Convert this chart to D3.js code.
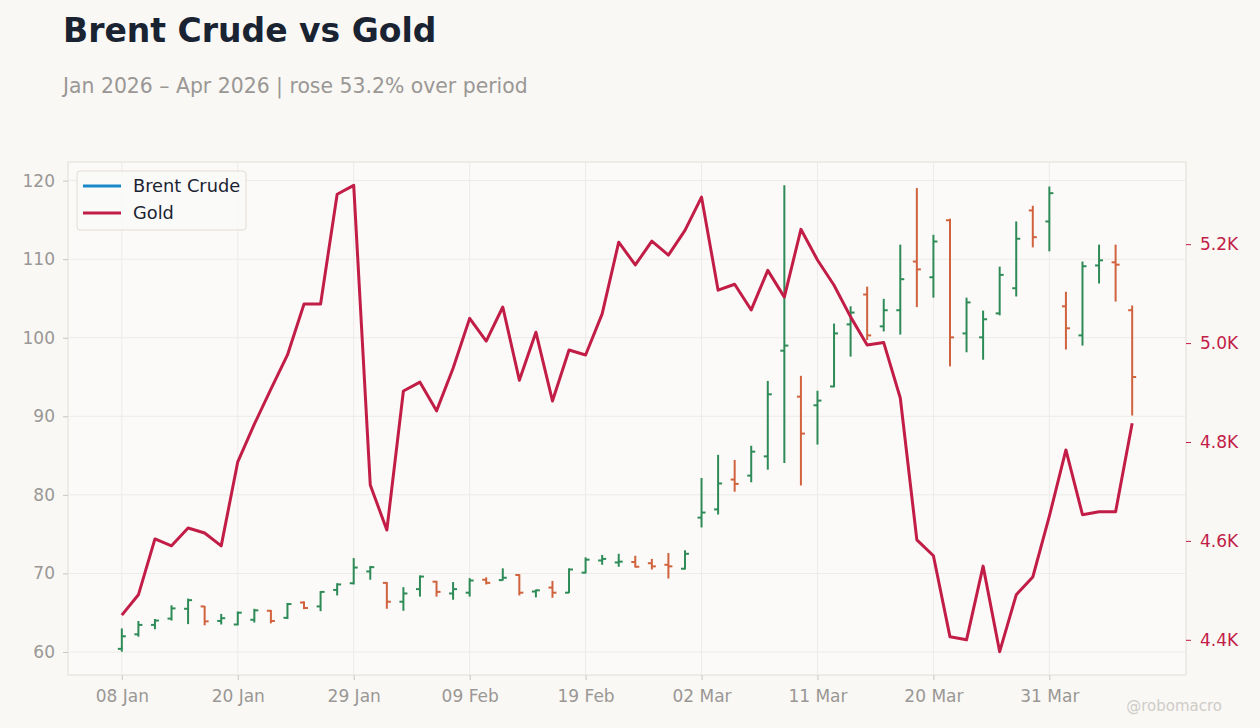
<!DOCTYPE html>
<html><head><meta charset="utf-8">
<script src="https://cdn.jsdelivr.net/npm/d3@7"></script>
<style>
body{margin:0;background:#f9f8f5;font-family:"DejaVu Sans",sans-serif;}
svg{display:block;}
</style></head>
<body><svg id="c" width="1260" height="728"></svg>
<script>
const dates = ["2026-01-08","2026-01-09","2026-01-12","2026-01-13","2026-01-14","2026-01-15","2026-01-16","2026-01-20","2026-01-21","2026-01-22","2026-01-23","2026-01-26","2026-01-27","2026-01-28","2026-01-29","2026-01-30","2026-02-02","2026-02-03","2026-02-04","2026-02-05","2026-02-06","2026-02-09","2026-02-10","2026-02-11","2026-02-12","2026-02-13","2026-02-17","2026-02-18","2026-02-19","2026-02-20","2026-02-23","2026-02-24","2026-02-25","2026-02-26","2026-02-27","2026-03-02","2026-03-03","2026-03-04","2026-03-05","2026-03-06","2026-03-09","2026-03-10","2026-03-11","2026-03-12","2026-03-13","2026-03-16","2026-03-17","2026-03-18","2026-03-19","2026-03-20","2026-03-23","2026-03-24","2026-03-25","2026-03-26","2026-03-27","2026-03-30","2026-03-31","2026-04-01","2026-04-02","2026-04-06","2026-04-07","2026-04-08"];
const brentOpen  = [60.4,62.25,63.45,64.25,65.5,65.8,63.95,63.5,64.1,65.25,64.35,66.3,65.8,67.9,68.75,70.25,68.8,66.4,68.0,68.95,67.45,67.55,69.2,69.15,69.8,67.7,68.2,67.55,70.1,71.65,71.4,71.45,71.3,71.1,70.6,77.1,78.15,81.95,82.45,84.9,98.35,92.5,91.4,93.8,101.7,105.5,101.45,103.5,109.7,107.7,114.95,100.55,100.05,103.1,106.3,116.2,114.8,104.0,100.3,109.2,109.6,103.5];
const brentHigh  = [63.0,63.95,64.2,65.95,66.8,65.85,64.85,65.15,65.5,65.35,66.25,66.45,67.75,68.75,71.95,70.95,68.9,68.25,69.75,69.05,68.9,69.4,69.5,70.65,69.9,67.95,69.05,70.65,72.05,72.35,72.5,72.25,71.85,72.6,72.95,82.15,85.1,84.45,86.25,94.5,119.4,95.15,93.25,101.8,104.0,106.5,104.95,111.85,119.05,113.1,115.15,105.1,103.45,109.05,114.8,116.8,119.25,105.85,109.7,111.85,111.85,104.1];
const brentLow   = [60.04,61.95,62.9,64.0,63.55,63.4,63.5,63.4,63.75,63.65,64.2,65.45,65.2,67.2,68.6,69.2,65.5,65.25,67.05,67.05,66.65,67.05,68.6,69.1,67.2,66.95,66.9,67.5,70.0,71.1,70.85,70.75,70.5,69.35,70.5,75.85,77.5,80.4,81.6,83.2,84.05,81.2,86.4,93.7,97.6,99.7,100.8,100.4,103.9,105.1,96.35,98.15,97.2,102.85,105.25,111.5,111.0,98.5,99.0,106.9,104.6,90.1];
const brentClose = [62.0,63.45,64.0,65.55,66.6,63.9,64.3,65.0,65.3,63.95,66.1,65.6,67.65,68.6,70.75,70.8,66.4,67.45,69.6,67.65,68.0,69.1,68.8,69.45,67.55,67.85,67.55,70.5,71.75,71.85,71.5,70.85,70.9,70.9,72.5,77.75,81.45,81.4,85.5,92.8,99.0,87.8,92.0,100.55,103.2,100.3,103.5,107.45,108.7,112.25,100.05,104.5,102.35,108.0,112.6,112.8,118.4,101.2,109.1,109.85,109.3,95.0];
const gold = [4450,4491,4604,4590,4626,4616,4590,4760,4836,4907,4976,5079,5079,5301,5319,4713,4622,4903,4921,4863,4949,5050,5004,5073,4925,5022,4883,4986,4976,5059,5204,5158,5206,5178,5228,5295,5107,5119,5067,5147,5093,5230,5168,5117,5053,4996,5001,4889,4602,4570,4406,4400,4549,4376,4491,4527,4650,4784,4653,4659,4659,4838];
const xTickIdx = [0,7,14,21,28,35,42,49,56];
const leftTicks = [60,70,80,90,100,110,120];
const rightTicks = [4400,4600,4800,5000,5200];
const seriesNames = ["Brent Crude","Gold"];
const titleText = "Brent Crude vs Gold";
const subtitleText = "Jan 2026 – Apr 2026 | rose 53.2% over period";

const svg = d3.select("#c");
const W=1260,H=728;
const m = {l:68, r:1186, t:162, b:675};
const cUp="#2e8b57", cDown="#d0623d", cGold="#c21d47", cBrent="#1a87c9";
const parse = d3.timeParse("%Y-%m-%d"), fmt = d3.timeFormat("%d %b");

svg.append("rect").attr("width",W).attr("height",H).attr("fill","#f9f8f5");
svg.append("rect").attr("x",m.l).attr("y",m.t).attr("width",m.r-m.l).attr("height",m.b-m.t)
  .attr("fill","#fbfaf8").attr("stroke","#e2ddd6").attr("stroke-width",1);

const n = dates.length;
const x = d3.scaleLinear().domain([-3.25, n-1+3.25]).range([m.l,m.r]);
const lo = d3.min(brentLow), hi = d3.max(brentHigh), pad=(hi-lo)*0.05;
const yL = d3.scaleLinear().domain([lo-pad, hi+pad]).range([m.b,m.t]);
const gLo=d3.min(gold), gHi=d3.max(gold), gp=(gHi-gLo)*0.05;
const yR = d3.scaleLinear().domain([gLo-gp, gHi+gp]).range([m.b,m.t]);

// grid
const grid = svg.append("g");
grid.selectAll(".gy").data(leftTicks).join("line")
  .attr("x1",m.l).attr("x2",m.r).attr("y1",d=>yL(d)).attr("y2",d=>yL(d))
  .attr("stroke","#ecebe8").attr("stroke-width",1);
grid.selectAll(".gx").data(xTickIdx).join("line")
  .attr("y1",m.t).attr("y2",m.b).attr("x1",d=>x(d)).attr("x2",d=>x(d))
  .attr("stroke","#ecebe8").attr("stroke-width",1);

// axes
const ax = svg.append("g").attr("transform",`translate(0,${m.b})`)
  .call(d3.axisBottom(x).tickValues(xTickIdx).tickFormat(i=>fmt(parse(dates[i]))).tickSize(5).tickPadding(10));
const al = svg.append("g").attr("transform",`translate(${m.l},0)`)
  .call(d3.axisLeft(yL).tickValues(leftTicks).tickSize(5).tickPadding(8));
const ar = svg.append("g").attr("transform",`translate(${m.r},0)`)
  .call(d3.axisRight(yR).tickValues(rightTicks).tickFormat(d=>(d/1000).toFixed(1)+"K").tickSize(5).tickPadding(9));
[ax,al,ar].forEach(g=>{g.select(".domain").remove();
  g.selectAll("text").attr("font-family","DejaVu Sans").attr("font-size",17);});
ax.selectAll("line").attr("stroke","#c9c5bf");
al.selectAll("line").attr("stroke","#c9c5bf");
ax.selectAll("text").attr("fill","#9a9794");
al.selectAll("text").attr("fill","#9a9794");
ar.selectAll("line").attr("stroke",cGold);
ar.selectAll("text").attr("fill",cGold);

// OHLC
const idx = d3.range(n);
const og = svg.append("g");
const col = i => brentClose[i]>=brentOpen[i]?cUp:cDown;
og.selectAll(".hl").data(idx).join("line")
  .attr("x1",i=>x(i)).attr("x2",i=>x(i)).attr("y1",i=>yL(brentHigh[i])).attr("y2",i=>yL(brentLow[i]))
  .attr("stroke",col).attr("stroke-width",2);
og.selectAll(".op").data(idx).join("line")
  .attr("x1",i=>x(i)-4).attr("x2",i=>x(i)).attr("y1",i=>yL(brentOpen[i])).attr("y2",i=>yL(brentOpen[i]))
  .attr("stroke",col).attr("stroke-width",2);
og.selectAll(".cl").data(idx).join("line")
  .attr("x1",i=>x(i)).attr("x2",i=>x(i)+4).attr("y1",i=>yL(brentClose[i])).attr("y2",i=>yL(brentClose[i]))
  .attr("stroke",col).attr("stroke-width",2);

// gold line
svg.append("path").datum(idx)
  .attr("d",d3.line().x(i=>x(i)).y(i=>yR(gold[i])))
  .attr("fill","none").attr("stroke",cGold).attr("stroke-width",3).attr("stroke-linejoin","round");

// legend
const lg = svg.append("g").attr("transform","translate(77,171)");
lg.append("rect").attr("width",169).attr("height",59).attr("rx",3)
  .attr("fill","#faf9f7").attr("fill-opacity",0.9).attr("stroke","#e2ddd6");
[cBrent,cGold].forEach((c,k)=>{
  lg.append("line").attr("x1",6).attr("x2",44).attr("y1",15+k*27).attr("y2",15+k*27).attr("stroke",c).attr("stroke-width",3);
  lg.append("text").attr("x",56).attr("y",21+k*27).text(seriesNames[k])
    .attr("font-size",17.8).attr("fill","#1a2332");
});

// titles
svg.append("text").attr("x",63).attr("y",42).text(titleText)
  .attr("font-size",33).attr("font-weight","bold").attr("fill","#1a2332");
svg.append("text").attr("x",63).attr("y",93).text(subtitleText)
  .attr("font-size",20.4).attr("fill","#9a9794");
svg.append("text").attr("x",1222).attr("y",711).attr("text-anchor","end").text("@robomacro")
  .attr("font-size",15).attr("fill","#cfccc8");
</script></body></html>
